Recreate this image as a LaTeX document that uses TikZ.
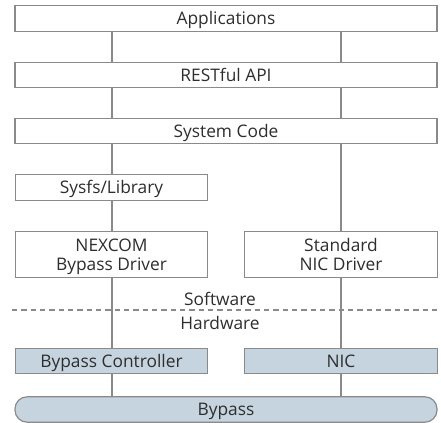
\documentclass[tikz,border=0pt]{standalone}
\usepackage{fontspec}
\setmainfont{Open Sans}
\definecolor{linegray}{HTML}{8A8A8A}
\definecolor{textgray}{HTML}{2E2E2E}
\definecolor{hwblue}{HTML}{C6D4DF}
\begin{document}
\begin{tikzpicture}[
    x=0.75pt, y=-0.75pt,
    layer/.style={draw=linegray, fill=white, line width=0.9pt, inner sep=0pt,
        text=textgray, font=\fontsize{13}{14.3}\selectfont, align=center,
        text height=9.3pt, text depth=0pt, minimum height=19pt},
    wide/.style={layer, minimum width=316.5pt},
    half/.style={layer, minimum width=144.5pt},
    twoline/.style={minimum height=35pt, text height=23.6pt},
    hw/.style={fill=hwblue},
    link/.style={draw=linegray, line width=0.9pt},
    side label/.style={text=textgray, font=\fontsize{13}{14.3}\selectfont,
        inner sep=0pt, text height=9.3pt, text depth=0pt}
]
    \useasboundingbox (0,0) rectangle (441,423);
    % columns of the two stacks
    \coordinate (lcol) at (112,0);
    \coordinate (rcol) at (341,0);

    % software layers
    \node[wide] (apps) at (226,18.5) {Applications};
    \node[wide] (rest) at (226,75) {RESTful API};
    \node[wide] (syscode) at (226,131) {System Code};
    \node[half] (sysfs) at (111.5,187.5) {Sysfs/Library};
    \node[half, twoline] (nexdrv) at (111.5,254.5) {NEXCOM\\Bypass Driver};
    \node[half, twoline] (nicdrv) at (341,254.5) {Standard\\NIC Driver};

    % Software / Hardware border
    \node[side label] (sw) at (220,299) {Software};
    \node[side label] (hwl) at (220,323) {Hardware};
    \coordinate (bl) at (12,310);
    \coordinate (br) at (441,310);
    \draw[linegray, line width=0.8pt, dash pattern=on 4pt off 3pt] (bl) -- (br);

    % hardware layers
    \node[half, hw] (bpctrl) at (111.5,361) {Bypass Controller};
    \node[half, hw] (nic) at (341,361) {NIC};
    \node[wide, hw, rounded corners=9pt] (bypass) at (226,409.5) {Bypass};

    % left stack
    \draw[link] (apps.south -| lcol) -- (rest.north -| lcol);
    \draw[link] (rest.south -| lcol) -- (syscode.north -| lcol);
    \draw[link] (syscode.south -| lcol) -- (sysfs.north -| lcol);
    \draw[link] (sysfs.south -| lcol) -- (nexdrv.north -| lcol);
    \draw[link] (nexdrv.south -| lcol) -- (bpctrl.north -| lcol);
    \draw[link] (bpctrl.south -| lcol) -- (bypass.north -| lcol);
    % right stack
    \draw[link] (apps.south -| rcol) -- (rest.north -| rcol);
    \draw[link] (rest.south -| rcol) -- (syscode.north -| rcol);
    \draw[link] (syscode.south -| rcol) -- (nicdrv.north -| rcol);
    \draw[link] (nicdrv.south -| rcol) -- (nic.north -| rcol);
    \draw[link] (nic.south -| rcol) -- (bypass.north -| rcol);
\end{tikzpicture}
\end{document}
